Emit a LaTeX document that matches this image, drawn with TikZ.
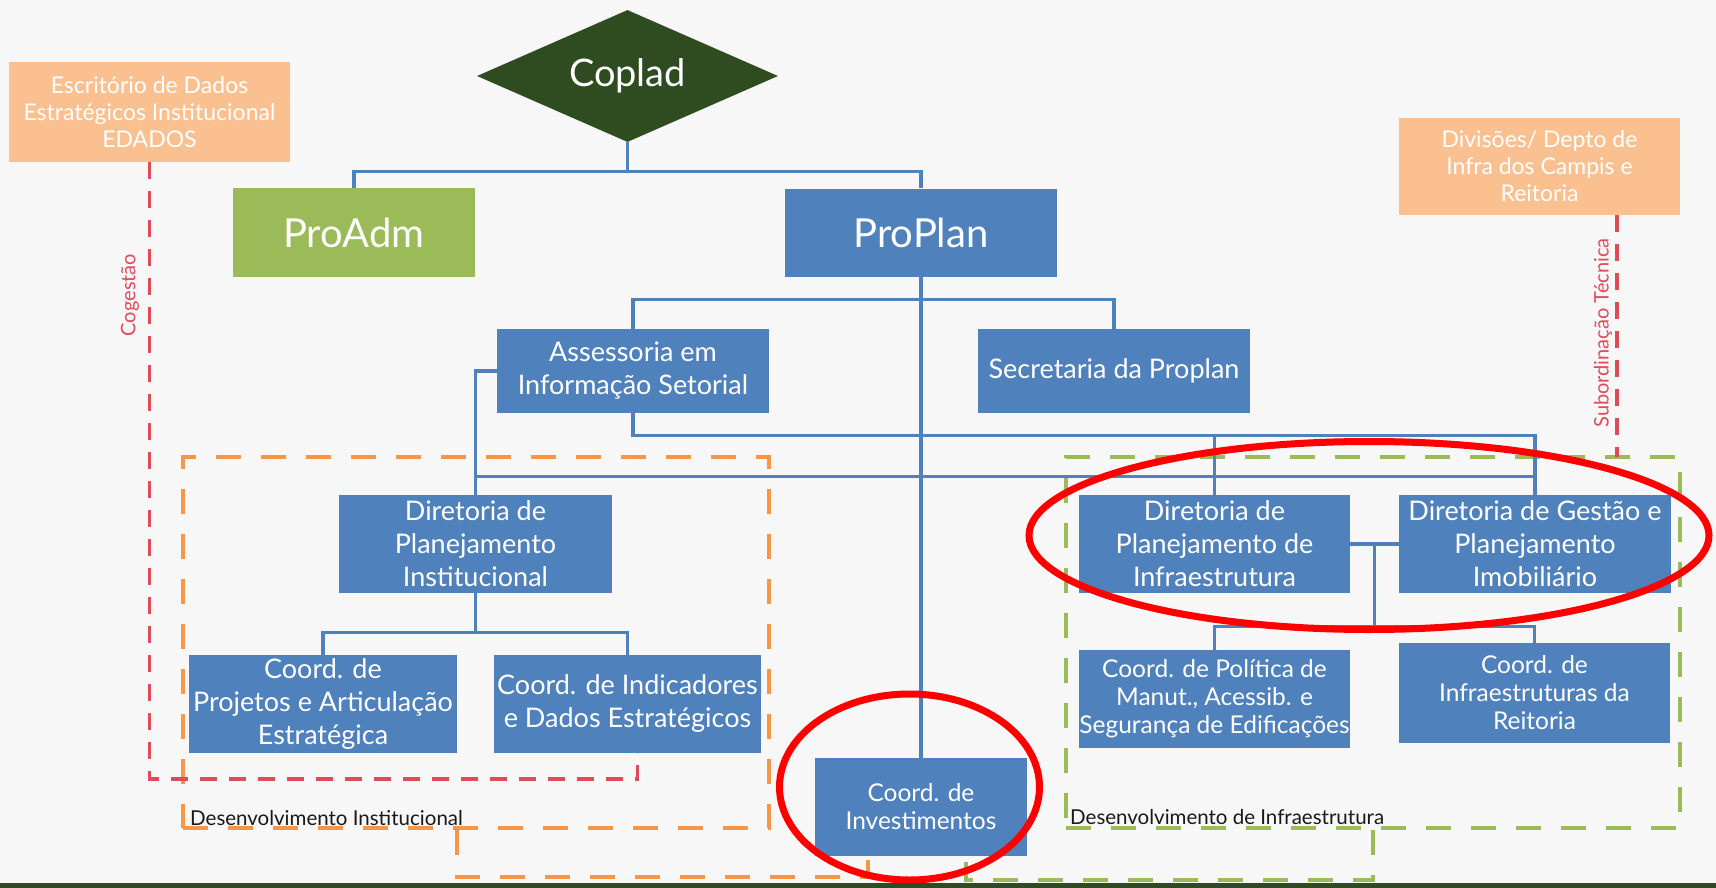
\documentclass[tikz,border=0pt]{standalone}
\usepackage{fontspec}
\setmainfont{Lato}
\usetikzlibrary{shapes.geometric,calc}
\definecolor{bgc}{HTML}{F7F7F7}
\definecolor{boxblue}{HTML}{4F81BD}
\definecolor{admgreen}{HTML}{9BBB59}
\definecolor{darkgreen}{HTML}{2F4B20}
\definecolor{peach}{HTML}{FAC090}
\definecolor{orangedash}{HTML}{F79646}
\definecolor{greendash}{HTML}{9BBB59}
\definecolor{reddash}{HTML}{E04B5A}
\begin{document}
\begin{tikzpicture}[x=1pt,y=-1pt,
  sz/.style 2 args={minimum width=#1pt, minimum height=#2pt},
  bluebox/.style={rectangle, fill=boxblue, text=white, align=center, inner sep=0pt, font=\fontsize{27}{33}\selectfont},
  smallbox/.style={bluebox, font=\fontsize{24.5}{28}\selectfont},
  peachbox/.style={rectangle, fill=peach, text=white, align=center, inner sep=0pt, font=\fontsize{23}{27}\selectfont},
  conn/.style={draw=boxblue, line width=3.3pt},
  orangeframe/.style={rectangle, draw=orangedash, line width=4pt, dash pattern=on 25pt off 20pt, inner sep=0pt},
  greenframe/.style={rectangle, draw=greendash, line width=4pt, dash pattern=on 25pt off 20pt, inner sep=0pt},
  odash/.style={draw=orangedash, line width=4pt, dash pattern=on 25pt off 20pt},
  gdash/.style={draw=greendash, line width=4pt, dash pattern=on 25pt off 20pt},
  rdash/.style={draw=reddash, line width=3.5pt, dash pattern=on 17pt off 12pt},
  rlabel/.style={rotate=90, text=reddash, inner sep=0pt, font=\fontsize{20}{24}\selectfont},
  grouplabel/.style={anchor=west, inner sep=0pt, text=black!90, font=\fontsize{20.5}{22}\selectfont},
  redmark/.style={draw=red, line width=7pt}
]
\fill[bgc] (0,0) rectangle (1716,888);
\useasboundingbox (0,0) rectangle (1716,888);

% group frames
\node[orangeframe, sz={586}{371}] (oframe) at (476,642.5) {};
\node[greenframe, sz={614}{371}] (gframe) at (1373,642.5) {};

% nodes
\node[peachbox, sz={281}{100}] (edados) at (149.5,112) {Escritório de Dados\\Estratégicos Institucional\\EDADOS};
\node[diamond, aspect=2.28, fill=darkgreen, text=white, inner sep=0pt, minimum width=301pt, minimum height=132pt, font=\fontsize{38}{40}\selectfont] (coplad) at (627.5,76) {Coplad};
\node[rectangle, fill=admgreen, text=white, inner sep=0pt, sz={242}{89}, font=\fontsize{40}{44}\selectfont] (proadm) at (354,232.5) {ProAdm};
\node[bluebox, sz={272}{88}, font=\fontsize{40}{44}\selectfont] (proplan) at (921,232.5) {ProPlan};
\node[peachbox, sz={281}{97}] (divisoes) at (1539.5,166.5) {Divisões/ Depto de\\Infra dos Campis e\\Reitoria};
\node[bluebox, sz={272}{84}] (assessoria) at (633,371) {Assessoria em\\Informação Setorial};
\node[bluebox, sz={272}{84}] (secretaria) at (1114,371) {Secretaria da Proplan};
\node[bluebox, sz={273}{98}] (dpi) at (475.5,544) {Diretoria de\\Planejamento\\Institucional};
\node[bluebox, sz={271}{98}] (dpinfra) at (1214.5,544) {Diretoria de\\Planejamento de\\Infraestrutura};
\node[bluebox, sz={272}{98}] (dgpi) at (1535,544) {Diretoria de Gestão e\\Planejamento\\Imobiliário};
\node[bluebox, sz={268}{98}] (cpae) at (323,704) {Coord. de\\Projetos e Articulação\\Estratégica};
\node[bluebox, sz={267}{98}] (cide) at (627.5,704) {Coord. de Indicadores\\e Dados Estratégicos};
\node[smallbox, sz={271}{98}] (cpm) at (1214.5,699) {Coord. de Política de\\Manut., Acessib. e\\Segurança de Edificações};
\node[smallbox, sz={271}{100}] (cir) at (1534.5,693) {Coord. de\\Infraestruturas da\\Reitoria};
\node[smallbox, sz={212}{98}] (cinv) at (921,807) {Coord. de\\Investimentos};

% labels
\node[rlabel] (coglabel) at (130,295) {Cogestão};
\node[rlabel] (sublabel) at (1603,333) {Subordinação Técnica};
\node[grouplabel] (devinst) at (190,818) {Desenvolvimento Institucional};
\node[grouplabel] (devinfra) at (1070,817) {Desenvolvimento de Infraestrutura};

% dashed relations
\draw[rdash] (edados.south) |- ($(cide.south)+(10,26)$) -- ($(cide.south)+(10,0)$);
\draw[rdash] ($(divisoes.south)+(77.5,0)$) -- ($(divisoes.south)+(77.5,242)$);
\draw[odash] (cpae.east |- oframe.south) -- ++(0,47) -| ($(cinv.south)+(-53,0)$);
\draw[gdash] (gframe.south) -- ++(0,50) -| ($(cinv.south)+(45,0)$);

% blue connectors
\coordinate (cb) at (627.5,172);
\draw[conn] (coplad.south) -- (cb);
\draw[conn] (proadm.north) -- ++(0,-16) -| (proplan.north);
\draw[conn] (proplan.south) -- (cinv.north);
\draw[conn] (assessoria.north) -- ++(0,-29) -| (secretaria.north);
\draw[conn] (assessoria.west) -| (dpi.north);
\draw[conn] (assessoria.south) -- ++(0,22) -| (dgpi.north);
\draw[conn] (dpi.north) ++(0,-18) -| (dgpi.north);
\draw[conn] (dpinfra.north) -- ++(0,-60);
\draw[conn] (dpinfra.east) -- (dgpi.west);
\coordinate (mid) at ($(dpinfra.east)!0.5!(dgpi.west)$);
\draw[conn] (mid) -- ++(0,83);
\draw[conn] (cpm.north) -- ++(0,-23) -| (cir.north);
\draw[conn] (dpi.south) -- ++(0,40);
\draw[conn] (cpae.north) -- ++(0,-22) -| (cide.north);

% red annotation ellipses
\draw[redmark] (1369,535.5) ellipse [x radius=340, y radius=94];
\draw[redmark] (909.5,787) ellipse [x radius=130, y radius=93];

\fill[darkgreen] (0,883) rectangle (1716,888);
\end{tikzpicture}
\end{document}
